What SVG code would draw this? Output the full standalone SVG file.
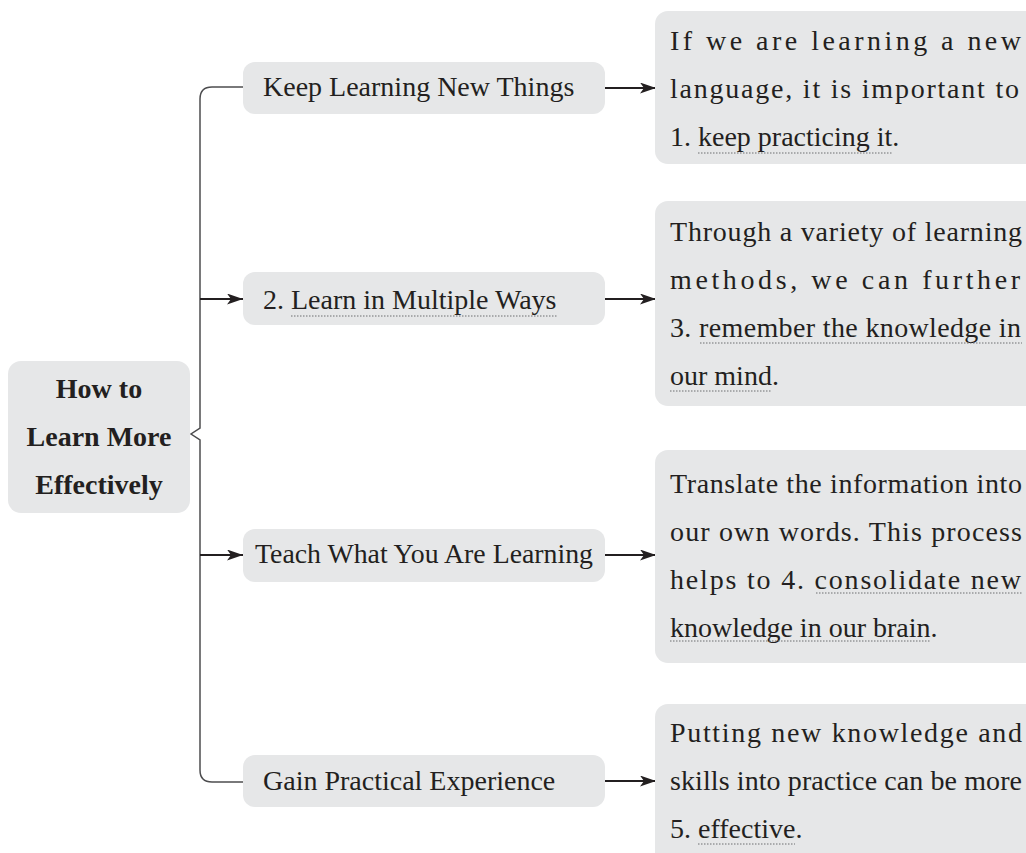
<svg xmlns="http://www.w3.org/2000/svg" width="1026" height="853" viewBox="0 0 1026 853">
  <defs>
    <marker id="arrow" markerUnits="userSpaceOnUse" markerWidth="18" markerHeight="14" refX="16" refY="5.5" orient="auto">
      <path d="M0,0 L16,5.5 L0,11 L4,5.5 Z" fill="#231f20"/>
    </marker>
    <style>
      .box { fill: #e6e7e8; }
      .t { font-family: "Liberation Serif", "Times New Roman", serif; font-size: 28px; fill: #231f20; }
      .b { font-weight: bold; text-anchor: middle; }
      .u { stroke: #6d6e71; stroke-width: 1; stroke-dasharray: 1.5 1.5; fill: none; }
      .arr { stroke: #231f20; stroke-width: 2; fill: none; marker-end: url(#arrow); }
      .brace { stroke: #4d4d4f; stroke-width: 1.5; fill: none; }
    </style>
  </defs>
  <rect width="1026" height="853" fill="#ffffff"/>

  <!-- connectors -->
  <g id="connectors">
    <path class="brace" d="M243,87 H212 Q200,87 200,99 V428 L191,434 L200,440 V770 Q200,782 212,782 H243"/>
    <line class="arr" x1="200" y1="299" x2="243" y2="299"/>
    <line class="arr" x1="200" y1="555" x2="243" y2="555"/>
    <line class="arr" x1="605" y1="88" x2="656" y2="88"/>
    <line class="arr" x1="605" y1="299" x2="656" y2="299"/>
    <line class="arr" x1="605" y1="555" x2="656" y2="555"/>
    <line class="arr" x1="605" y1="781" x2="656" y2="781"/>
  </g>

  <!-- root -->
  <g id="root">
    <rect class="box" x="8" y="361" width="182" height="152" rx="13"/>
    <text class="t b" x="99" y="398">How to</text>
    <text class="t b" x="99" y="446">Learn More</text>
    <text class="t b" x="99" y="494">Effectively</text>
  </g>

  <!-- branches -->
  <g id="branch-keep">
    <rect class="box" x="243" y="62" width="362" height="52" rx="12"/>
    <text class="t" x="263" y="96">Keep Learning New Things</text>
  </g>
  <g id="branch-multiple">
    <rect class="box" x="243" y="272" width="362" height="53" rx="12"/>
    <text class="t" x="263" y="309">2. Learn in Multiple Ways</text>
    <line class="u" x1="291" y1="316" x2="557" y2="316"/>
  </g>
  <g id="branch-teach">
    <rect class="box" x="243" y="529" width="362" height="53" rx="12"/>
    <text class="t" x="255" y="563" textLength="338" lengthAdjust="spacingAndGlyphs">Teach What You Are Learning</text>
  </g>
  <g id="branch-practice">
    <rect class="box" x="243" y="755" width="362" height="52" rx="12"/>
    <text class="t" x="263" y="790">Gain Practical Experience</text>
  </g>

  <!-- details -->
  <g id="detail-keep">
    <rect class="box" x="655" y="11" width="390" height="153" rx="13"/>
    <text class="t" x="670" y="50" textLength="351" lengthAdjust="spacing">If we are learning a new</text>
    <text class="t" x="670" y="98" textLength="349" lengthAdjust="spacing">language, it is important to</text>
    <text class="t" x="670" y="146">1. keep practicing it.</text>
    <line class="u" x1="698" y1="153" x2="893" y2="153"/>
  </g>
  <g id="detail-multiple">
    <rect class="box" x="655" y="201" width="390" height="205" rx="13"/>
    <text class="t" x="670" y="241" textLength="352" lengthAdjust="spacing">Through a variety of learning</text>
    <text class="t" x="670" y="289" textLength="350" lengthAdjust="spacing">methods, we can further</text>
    <text class="t" x="670" y="337" textLength="351" lengthAdjust="spacing">3. remember the knowledge in</text>
    <line class="u" x1="700" y1="343" x2="1022" y2="343"/>
    <text class="t" x="670" y="385">our mind.</text>
    <line class="u" x1="670" y1="391" x2="772" y2="391"/>
  </g>
  <g id="detail-teach">
    <rect class="box" x="655" y="450" width="390" height="213" rx="13"/>
    <text class="t" x="670" y="493" textLength="352" lengthAdjust="spacing">Translate the information into</text>
    <text class="t" x="670" y="541" textLength="352" lengthAdjust="spacing">our own words. This process</text>
    <text class="t" x="670" y="589" textLength="351" lengthAdjust="spacing">helps to 4. consolidate new</text>
    <line class="u" x1="816" y1="593" x2="1022" y2="593"/>
    <text class="t" x="670" y="637">knowledge in our brain.</text>
    <line class="u" x1="670" y1="641" x2="931" y2="641"/>
  </g>
  <g id="detail-practice">
    <rect class="box" x="655" y="704" width="390" height="170" rx="13"/>
    <text class="t" x="670" y="742" textLength="352" lengthAdjust="spacing">Putting new knowledge and</text>
    <text class="t" x="670" y="790" textLength="352" lengthAdjust="spacing">skills into practice can be more</text>
    <text class="t" x="670" y="838">5. effective.</text>
    <line class="u" x1="698" y1="844" x2="795" y2="844"/>
  </g>
</svg>
